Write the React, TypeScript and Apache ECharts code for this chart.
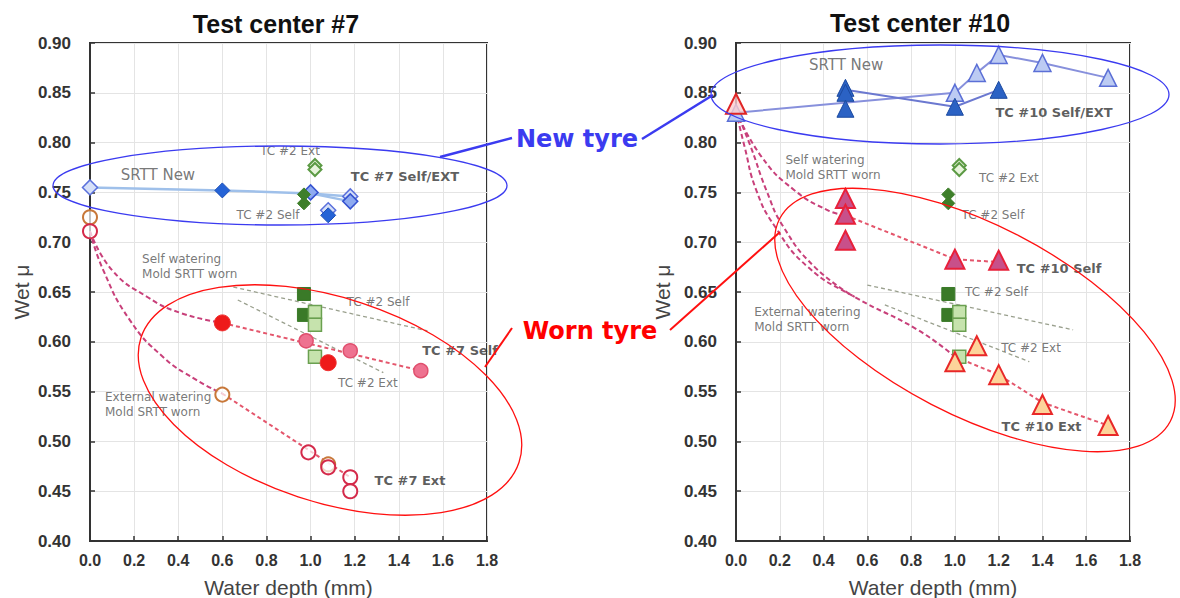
import React, { useEffect, useRef } from 'react';
import * as echarts from 'echarts';

// ---------- Axes ----------
const xMin = 0;
const xMax = 1.8;
const xStep = 0.2;
const yMin = 0.4;
const yMax = 0.9;
const yStep = 0.05;

const chartTitles = ['Test center #7', 'Test center #10'];
const xAxisName = 'Water depth (mm)';
const yAxisName = 'Wet μ';
const calloutNew = 'New tyre';
const calloutWorn = 'Worn tyre';

// ---------- Test center #7 (left) ----------
const tc7NewSelfLine = [[0, 0.755], [0.6, 0.752], [1.0, 0.749], [1.18, 0.746]];
const tc7NewExtLine = [[1.0, 0.749], [1.18, 0.741]];
const tc7NewPaleDiamonds = [[0, 0.755], [1.08, 0.732], [1.18, 0.746]];
const tc7NewMidDiamonds = [[1.0, 0.750], [1.18, 0.741]];
const tc7NewDarkDiamonds = [[0.6, 0.752], [1.08, 0.727]];

const tc2SelfDiamonds = [[0.97, 0.748], [0.97, 0.739]];
const tc2ExtDiamonds = [[1.02, 0.777], [1.02, 0.773]];
const tc2SelfSquares = [[0.97, 0.648], [0.97, 0.627]];
const tc2ExtSquares = [[1.02, 0.630], [1.02, 0.617], [1.02, 0.585]];

const tc2SelfTrendL = [[0.65, 0.655], [1.53, 0.611]];
const tc2ExtTrendL = [[0.67, 0.642], [1.33, 0.569]];

const tc7SelfCurve = [[0, 0.711], [0.1, 0.672], [0.26, 0.645], [0.41, 0.629], [0.6, 0.619]];
const tc7SelfTrend = [[0.6, 0.619], [1.5, 0.571]];
const tc7SelfBig = [[0.6, 0.619], [1.08, 0.579]];
const tc7SelfSmall = [[0.98, 0.601], [1.18, 0.591], [1.5, 0.571]];

const tc7ExtCurve = [[0, 0.711], [0.06, 0.672], [0.18, 0.622], [0.33, 0.585], [0.48, 0.562], [0.6, 0.548]];
const tc7ExtTrend = [[0.6, 0.548], [1.18, 0.464]];
const tc7ExtOrange = [[0, 0.725], [0.6, 0.547], [1.08, 0.477]];
const tc7ExtRed = [[0, 0.711], [0.99, 0.489], [1.08, 0.474], [1.18, 0.464], [1.18, 0.450]];

const tc7Labels = [
  { text: 'SRTT New', x: 0.308, y: 0.7675, kind: 'name' },
  { text: 'TC #2 Ext', x: 0.907, y: 0.7916, kind: 'note' },
  { text: 'TC #7 Self/EXT', x: 1.428, y: 0.7655, kind: 'bold' },
  { text: 'TC #2 Self', x: 0.807, y: 0.7273, kind: 'note' },
  { text: 'Self watering\nMold SRTT worn', x: 0.236, y: 0.676, kind: 'block' },
  { text: 'TC #2 Self', x: 1.306, y: 0.640, kind: 'note' },
  { text: 'TC #7 Self', x: 1.678, y: 0.591, kind: 'bold' },
  { text: 'TC #2 Ext', x: 1.26, y: 0.559, kind: 'note' },
  { text: 'External watering\nMold SRTT worn', x: 0.068, y: 0.5366, kind: 'block' },
  { text: 'TC #7 Ext', x: 1.451, y: 0.461, kind: 'bold' },
];

// ---------- Test center #10 (right) ----------
const tc10NewSelfLine = [[0.5, 0.853], [1.0, 0.836], [1.2, 0.853]];
const tc10NewExtLine = [[0, 0.830], [1.0, 0.850], [1.1, 0.870], [1.2, 0.888], [1.4, 0.880], [1.7, 0.865]];
const tc10NewDark = [[0.5, 0.855], [0.5, 0.850], [0.5, 0.834], [1.0, 0.836], [1.2, 0.853]];
const tc10NewLight = [[0, 0.830], [1.0, 0.850], [1.1, 0.870], [1.2, 0.888], [1.4, 0.880], [1.7, 0.865]];
const tc10WornStart = [[0, 0.839]];

const tc10SelfCurve = [[0, 0.832], [0.116, 0.786], [0.268, 0.752], [0.42, 0.732], [0.5, 0.727]];
const tc10SelfTrend = [[0.5, 0.727], [1.0, 0.683], [1.2, 0.680]];
const tc10SelfTri = [[0.5, 0.744], [0.5, 0.728], [0.5, 0.702], [1.0, 0.683], [1.2, 0.682]];

const tc10ExtCurveA = [[0, 0.832], [0.039, 0.796], [0.093, 0.752], [0.177, 0.716], [0.329, 0.675], [0.542, 0.645], [0.83, 0.612], [1.0, 0.585]];
const tc10ExtCurveB = [[0, 0.832], [0.067, 0.796], [0.139, 0.752], [0.215, 0.716], [0.36, 0.675], [0.542, 0.645]];
const tc10ExtTrend = [[1.0, 0.585], [1.2, 0.567], [1.4, 0.539], [1.7, 0.516]];
const tc10ExtTri = [[1.0, 0.580], [1.1, 0.596], [1.2, 0.567], [1.4, 0.537], [1.7, 0.516]];

const tc2SelfTrendR = [[0.6, 0.657], [1.54, 0.612]];
const tc2ExtTrendR = [[0.68, 0.637], [1.34, 0.580]];

const tc10Labels = [
  { text: 'SRTT New', x: 0.503, y: 0.878, kind: 'name' },
  { text: 'TC #10 Self/EXT', x: 1.453, y: 0.8307, kind: 'bold' },
  { text: 'Self watering\nMold SRTT worn', x: 0.2256, y: 0.7745, kind: 'block' },
  { text: 'TC #2 Ext', x: 1.247, y: 0.7645, kind: 'note' },
  { text: 'TC #2 Self', x: 1.174, y: 0.7273, kind: 'note' },
  { text: 'TC #10 Self', x: 1.476, y: 0.674, kind: 'bold' },
  { text: 'TC #2 Self', x: 1.19, y: 0.65, kind: 'note' },
  { text: 'External watering\nMold SRTT worn', x: 0.083, y: 0.6224, kind: 'block' },
  { text: 'TC #2 Ext', x: 1.348, y: 0.5938, kind: 'note' },
  { text: 'TC #10 Ext', x: 1.396, y: 0.5145, kind: 'bold' },
];

// ---------- helpers ----------
const AX_FONT = 'Arial, "Liberation Sans", sans-serif';
const NOTE_FONT = '"DejaVu Sans", Verdana, sans-serif';

const labelStyle = (kind: string) => {
  if (kind === 'bold') return { fontSize: 13, fontWeight: 'bold', color: '#333', fontFamily: NOTE_FONT, align: 'center', verticalAlign: 'middle' };
  if (kind === 'name') return { fontSize: 15, color: '#555', fontFamily: NOTE_FONT, align: 'center', verticalAlign: 'middle' };
  if (kind === 'block') return { fontSize: 12, color: '#555', fontFamily: NOTE_FONT, align: 'left', verticalAlign: 'middle', lineHeight: 15 };
  return { fontSize: 12, color: '#555', fontFamily: NOTE_FONT, align: 'center', verticalAlign: 'middle' };
};

const lineS = (data: number[][], gi: number, color: string, width: number, type: any, smooth: number | boolean = false) => ({
  type: 'line', xAxisIndex: gi, yAxisIndex: gi, data, symbol: 'none', smooth, silent: true, z: 2,
  lineStyle: { color, width, type },
});

const ptS = (data: number[][], gi: number, symbol: string, size: number, fill: string, border: string, bw: number) => ({
  type: 'scatter', xAxisIndex: gi, yAxisIndex: gi, data, symbol, symbolSize: size, silent: true, z: 3,
  itemStyle: { color: fill, borderColor: border, borderWidth: bw, opacity: 1 },
});

const labelS = (labels: any[], gi: number) => ({
  type: 'scatter', xAxisIndex: gi, yAxisIndex: gi, symbolSize: 1, silent: true, z: 6,
  itemStyle: { color: 'rgba(0,0,0,0)' },
  data: labels.map((l) => ({ value: [l.x, l.y], label: { show: true, position: 'inside', formatter: l.text, ...labelStyle(l.kind) } })),
});

const makeX = (gi: number) => ({
  type: 'value', gridIndex: gi, min: xMin, max: xMax, interval: xStep,
  name: xAxisName, nameLocation: 'middle', nameGap: 36,
  nameTextStyle: { fontSize: 21, color: '#444', fontFamily: AX_FONT },
  axisLine: { show: true, onZero: false, lineStyle: { color: '#333', width: 2 } },
  axisTick: { show: true, inside: true, length: 5, lineStyle: { color: '#333', width: 1.5 } },
  splitLine: { show: true, lineStyle: { color: '#e4e4e4', width: 1 } },
  axisLabel: { fontSize: 16, fontWeight: 'bold', color: '#333', fontFamily: AX_FONT, margin: 11, showMinLabel: true, showMaxLabel: true, formatter: (v: number) => v.toFixed(1) },
});

const makeY = (gi: number, gap: number) => ({
  type: 'value', gridIndex: gi, min: yMin, max: yMax, interval: yStep,
  name: yAxisName, nameLocation: 'middle', nameGap: gap,
  nameTextStyle: { fontSize: 21, color: '#444', fontFamily: AX_FONT },
  axisLine: { show: true, onZero: false, lineStyle: { color: '#333', width: 2 } },
  axisTick: { show: true, inside: true, length: 5, lineStyle: { color: '#333', width: 1.5 } },
  splitLine: { show: true, lineStyle: { color: '#e4e4e4', width: 1 } },
  axisLabel: { fontSize: 17, fontWeight: 'bold', color: '#333', fontFamily: AX_FONT, margin: 19, showMinLabel: true, showMaxLabel: true, formatter: (v: number) => v.toFixed(2) },
});

const MAG = '#c8407a';
const RED_DASH = '#e4566c';
const GRAY_DASH = '#9aa08e';

export default function App() {
  const ref = useRef<HTMLDivElement>(null);

  useEffect(() => {
    document.body.style.margin = '0';
    const chart = echarts.init(ref.current as HTMLDivElement, null, { renderer: 'svg' });

    const series: any[] = [
      // ---- left ----
      lineS(tc2SelfTrendL, 0, GRAY_DASH, 1.3, [4, 3]),
      lineS(tc2ExtTrendL, 0, GRAY_DASH, 1.3, [4, 3]),
      lineS(tc7NewSelfLine, 0, '#9fc0ea', 2.5, 'solid'),
      lineS(tc7NewExtLine, 0, '#9fc0ea', 2.5, 'solid'),
      lineS(tc7SelfCurve, 0, MAG, 2, [5, 3], 0.5),
      lineS(tc7ExtCurve, 0, MAG, 2, [5, 3], 0.5),
      lineS(tc7SelfTrend, 0, RED_DASH, 2, [4, 3]),
      lineS(tc7ExtTrend, 0, RED_DASH, 2, [4, 3]),
      ptS(tc7NewPaleDiamonds, 0, 'diamond', 15, '#d6e0f8', '#5a70dc', 1.5),
      ptS(tc7NewMidDiamonds, 0, 'diamond', 15, '#8eaaf0', '#3552d0', 1.5),
      ptS(tc7NewDarkDiamonds, 0, 'diamond', 15, '#2563d6', '#1c4fb8', 1),
      ptS(tc2SelfDiamonds, 0, 'diamond', 13, '#3e7f2a', '#3e7f2a', 1),
      ptS(tc2ExtDiamonds, 0, 'diamond', 13, '#e8f4dc', '#5c9a44', 2),
      ptS(tc2SelfSquares, 0, 'rect', 13, '#3a7a28', '#3a7a28', 1),
      ptS(tc2ExtSquares, 0, 'rect', 13, '#c6e3ad', '#6aa050', 1.5),
      ptS(tc7SelfSmall, 0, 'circle', 14, '#ee7290', '#e0506e', 1.5),
      ptS(tc7SelfBig, 0, 'circle', 16, '#ee1a1a', '#f03030', 1),
      ptS(tc7ExtOrange, 0, 'circle', 14, 'rgba(255,255,255,0.7)', '#c8783a', 2),
      ptS(tc7ExtRed, 0, 'circle', 14, 'rgba(255,255,255,0.7)', '#d42a4a', 2),
      labelS(tc7Labels, 0),
      // ---- right ----
      lineS(tc2SelfTrendR, 1, GRAY_DASH, 1.3, [4, 3]),
      lineS(tc2ExtTrendR, 1, GRAY_DASH, 1.3, [4, 3]),
      lineS(tc10NewExtLine, 1, '#8790dc', 2, 'solid'),
      lineS(tc10NewSelfLine, 1, '#6b78d0', 2, 'solid'),
      lineS(tc10SelfCurve, 1, MAG, 2, [5, 3], 0.5),
      lineS(tc10ExtCurveA, 1, MAG, 2, [5, 3], 0.5),
      lineS(tc10ExtCurveB, 1, MAG, 2, [5, 3], 0.5),
      lineS(tc10SelfTrend, 1, RED_DASH, 2, [4, 3]),
      lineS(tc10ExtTrend, 1, RED_DASH, 2, [4, 3]),
      ptS(tc10NewLight, 1, 'triangle', 17, '#bccbf3', '#5b6fd6', 1.5),
      ptS(tc10NewDark, 1, 'triangle', 17, '#2b62c4', '#1c4aa0', 1),
      ptS(tc10WornStart, 1, 'triangle', 20, 'rgba(251,205,205,0.8)', '#e02424', 2),
      ptS(tc2SelfDiamonds, 1, 'diamond', 13, '#3e7f2a', '#3e7f2a', 1),
      ptS(tc2ExtDiamonds, 1, 'diamond', 13, '#e8f4dc', '#5c9a44', 2),
      ptS(tc2SelfSquares, 1, 'rect', 13, '#3a7a28', '#3a7a28', 1),
      ptS(tc2ExtSquares, 1, 'rect', 13, '#c6e3ad', '#6aa050', 1.5),
      ptS(tc10SelfTri, 1, 'triangle', 19, '#c8508a', '#e8203a', 2),
      ptS(tc10ExtTri, 1, 'triangle', 19, '#fdd39a', '#e82828', 2),
      labelS(tc10Labels, 1),
    ];

    const option: any = {
      animation: false,
      backgroundColor: '#ffffff',
      grid: [
        { left: 90, top: 43, width: 397, height: 498, outerBoundsMode: 'none', containLabel: false, show: true, borderColor: '#333', borderWidth: 2, backgroundColor: 'transparent' },
        { left: 736, top: 43, width: 394, height: 498, outerBoundsMode: 'none', containLabel: false, show: true, borderColor: '#333', borderWidth: 2, backgroundColor: 'transparent' },
      ],
      xAxis: [makeX(0), makeX(1)],
      yAxis: [makeY(0, 58), makeY(1, 63)],
      series,
      graphic: [
        { type: 'text', x: 276, y: 24, z: 20, style: { text: chartTitles[0], fill: '#111', font: `bold 25px ${AX_FONT}`, textAlign: 'center', textVerticalAlign: 'middle' } },
        { type: 'text', x: 920, y: 23, z: 20, style: { text: chartTitles[1], fill: '#111', font: `bold 25px ${AX_FONT}`, textAlign: 'center', textVerticalAlign: 'middle' } },
        // blue ellipses + callout
        { type: 'ellipse', z: 20, silent: true, shape: { cx: 280, cy: 185.5, rx: 227, ry: 39.5 }, style: { fill: 'none', stroke: '#3b3bf0', lineWidth: 1.3 } },
        { type: 'ellipse', z: 20, silent: true, shape: { cx: 940, cy: 94.5, rx: 229, ry: 49.5 }, style: { fill: 'none', stroke: '#3b3bf0', lineWidth: 1.3 } },
        { type: 'line', z: 20, silent: true, shape: { x1: 440, y1: 157, x2: 512, y2: 138 }, style: { stroke: '#3b3bf0', lineWidth: 2.5 } },
        { type: 'line', z: 20, silent: true, shape: { x1: 642, y1: 139, x2: 713, y2: 95 }, style: { stroke: '#3b3bf0', lineWidth: 2.5 } },
        { type: 'text', x: 577, y: 139, z: 20, style: { text: calloutNew, fill: '#3b3bf0', font: `bold 24px ${NOTE_FONT}`, textAlign: 'center', textVerticalAlign: 'middle' } },
        // red ellipses + callout
        { type: 'ellipse', z: 20, silent: true, x: 330, y: 400, rotation: -0.3185, shape: { cx: 0, cy: 0, rx: 199, ry: 102 }, style: { fill: 'none', stroke: '#ff1010', lineWidth: 1.3 } },
        { type: 'ellipse', z: 20, silent: true, x: 975, y: 320, rotation: -0.478, shape: { cx: 0, cy: 0, rx: 220, ry: 95 }, style: { fill: 'none', stroke: '#ff1010', lineWidth: 1.3 } },
        { type: 'line', z: 20, silent: true, shape: { x1: 485, y1: 367, x2: 512, y2: 328 }, style: { stroke: '#ff1010', lineWidth: 2 } },
        { type: 'line', z: 20, silent: true, shape: { x1: 670, y1: 330, x2: 780, y2: 232 }, style: { stroke: '#ff1010', lineWidth: 2 } },
        { type: 'text', x: 590, y: 331, z: 20, style: { text: calloutWorn, fill: '#ff0000', font: `bold 24px ${NOTE_FONT}`, textAlign: 'center', textVerticalAlign: 'middle' } },
      ],
    };

    chart.setOption(option);
    return () => chart.dispose();
  }, []);

  return <div ref={ref} style={{ position: 'absolute', left: 0, top: 0, width: 1180, height: 598, background: '#fff' }} />;
}
